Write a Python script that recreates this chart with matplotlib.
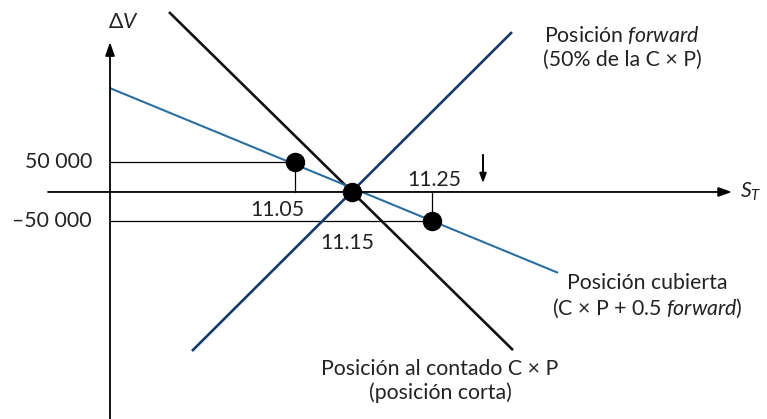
import matplotlib.pyplot as plt

plt.rcParams['font.family'] = ['Lato', 'DejaVu Sans']
plt.rcParams['mathtext.fontset'] = 'custom'
plt.rcParams['mathtext.rm'] = 'Lato'
plt.rcParams['mathtext.it'] = 'Lato:italic'

# schematic diagram: x in drawing units along S_T, y = change in value (thousands)
contado_x = [169, 513]
contado_y = [305, -268]
forward_x = [192, 512]
forward_y = [-269.5, 271]
cubierta_x = [110, 558]
cubierta_y = [176, -137]

# marked points on the covered position
point_x = [295, 352, 432]
point_y = [50, 0, -50]
price_labels = ['11.05', '11.15', '11.25']
ytick_vals = [50, -50]
ytick_labels = ['50 000', '\u201350 000']

fs = 15.3
tc = '#222222'
fig = plt.figure(figsize=(7.67, 4.19), dpi=100)
ax = fig.add_axes([0, 0, 1, 1])
ax.set_xlim(0, 767)
ax.set_ylim(-384.8, 325.4)
ax.axis('off')

# axes with arrows
ax.annotate('', xy=(732, 0), xytext=(48, 0),
            arrowprops=dict(arrowstyle='-|>,head_length=0.8,head_width=0.28',
                            color='black', lw=1.3, shrinkA=0, shrinkB=0))
ax.annotate('', xy=(110, 254), xytext=(110, -390),
            arrowprops=dict(arrowstyle='-|>,head_length=0.8,head_width=0.28',
                            color='black', lw=1.3, shrinkA=0, shrinkB=0))

# guide lines to the points
ax.plot([110, point_x[0]], [ytick_vals[0], ytick_vals[0]], color='black', lw=0.9)
ax.plot([point_x[0], point_x[0]], [point_y[0], 0], color='black', lw=0.9)
ax.plot([110, point_x[2]], [ytick_vals[1], ytick_vals[1]], color='black', lw=0.9)
ax.plot([point_x[2], point_x[2]], [point_y[2], 0], color='black', lw=0.9)

# position lines
ax.plot(contado_x, contado_y, color='#111111', lw=1.9, solid_capstyle='butt')
ax.plot(forward_x, forward_y, color='#17386b', lw=1.9, solid_capstyle='butt')
ax.plot(cubierta_x, cubierta_y, color='#2a6f9f', lw=1.5, solid_capstyle='butt')

ax.plot(point_x, point_y, 'o', color='black', markersize=13, zorder=5)

# axis labels and ticks
ax.text(123, 288, '\u0394$\\mathit{V}$', fontsize=fs, ha='center', va='center', color=tc)
ax.text(740, 0, '$\\mathit{S}_{\\mathit{T}}$', fontsize=fs, ha='left', va='center', color=tc)
for v, lab in zip(ytick_vals, ytick_labels):
    ax.text(92, v, lab, fontsize=fs, ha='right', va='center', color=tc)

ax.text(277, -30.5, price_labels[0], fontsize=fs, ha='center', va='center', color=tc)
ax.text(347, -86, price_labels[1], fontsize=fs, ha='center', va='center', color=tc)
ax.text(434, 20.3, price_labels[2], fontsize=fs, ha='center', va='center', color=tc)

ax.annotate('', xy=(483, 15), xytext=(483, 63),
            arrowprops=dict(arrowstyle='-|>,head_length=0.55,head_width=0.2',
                            color='black', lw=1.4, shrinkA=0, shrinkB=0))

# line labels
ax.text(622, 246, 'Posición $\\mathit{forward}$\n(50% de la C \u00d7 P)',
        fontsize=fs, ha='center', va='center', linespacing=1.2, color=tc)
ax.text(647, -177, 'Posición cubierta\n(C \u00d7 P + 0.5 $\\mathit{forward}$)',
        fontsize=fs, ha='center', va='center', linespacing=1.2, color=tc)
ax.text(440, -320, 'Posición al contado C \u00d7 P\n(posición corta)',
        fontsize=fs, ha='center', va='center', linespacing=1.2, color=tc)

fig.savefig('out.png', dpi=100)
